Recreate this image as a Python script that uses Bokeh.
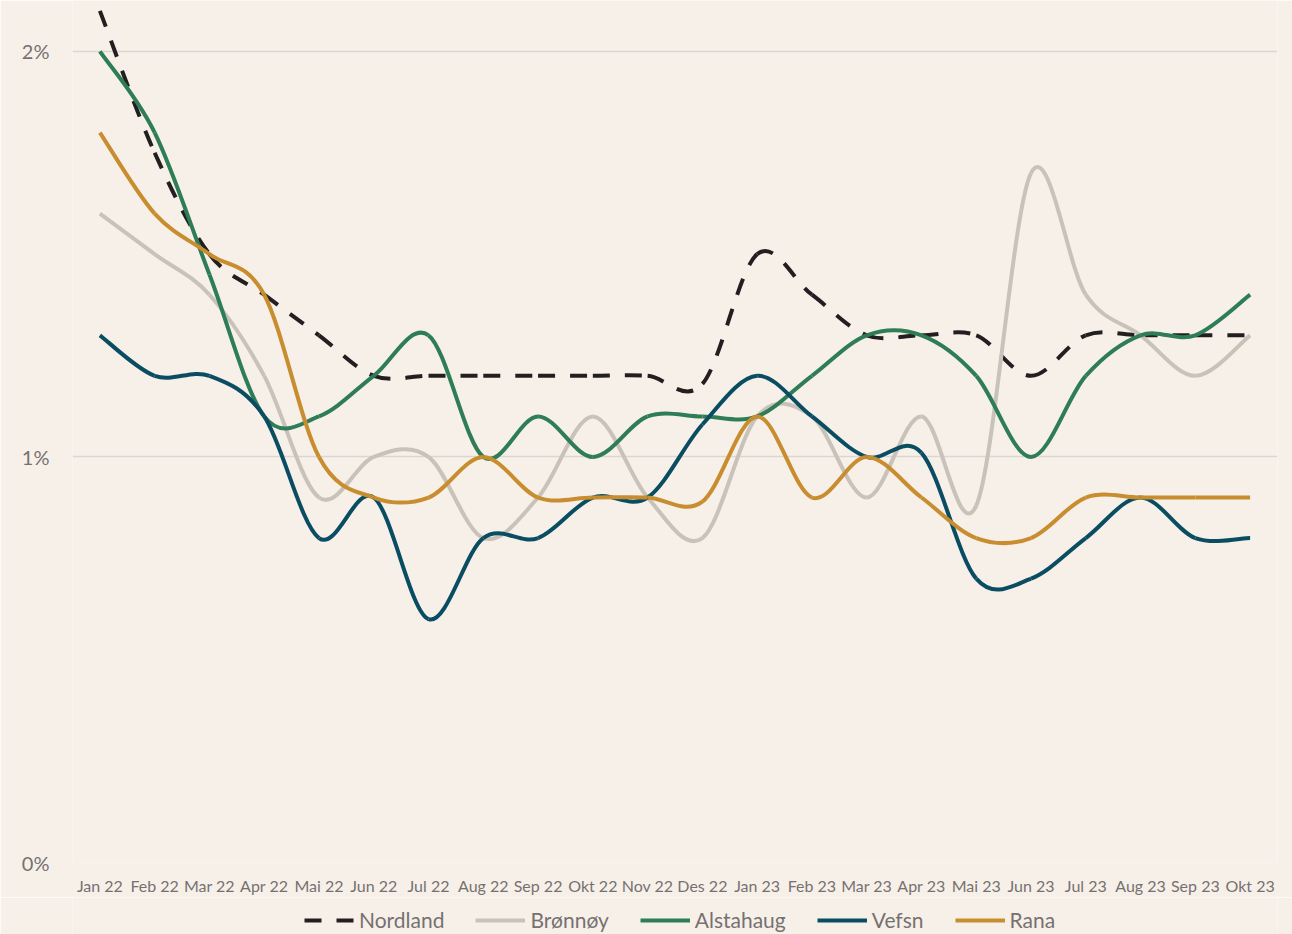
from bokeh.plotting import figure
from bokeh.layouts import column
from bokeh.models import Range1d, FixedTicker, Legend, LegendItem, ColumnDataSource
from bokeh.embed import file_html
from bokeh.resources import INLINE

# ---- data ----
months = ["Jan 22", "Feb 22", "Mar 22", "Apr 22", "Mai 22", "Jun 22", "Jul 22",
          "Aug 22", "Sep 22", "Okt 22", "Nov 22", "Des 22", "Jan 23", "Feb 23",
          "Mar 23", "Apr 23", "Mai 23", "Jun 23", "Jul 23", "Aug 23", "Sep 23", "Okt 23"]

nordland = [2.1, 1.75, 1.5, 1.4, 1.3, 1.2, 1.2, 1.2, 1.2, 1.2, 1.2, 1.18,
            1.5, 1.4, 1.3, 1.3, 1.3, 1.2, 1.3, 1.3, 1.3, 1.3]
bronnoy = [1.6, 1.5, 1.4, 1.2, 0.9, 1.0, 1.0, 0.8, 0.9, 1.1, 0.9, 0.8,
           1.1, 1.1, 0.9, 1.1, 0.88, 1.7, 1.4, 1.3, 1.2, 1.3]
alstahaug = [2.0, 1.8, 1.45, 1.1, 1.1, 1.2, 1.3, 1.0, 1.1, 1.0, 1.1, 1.1,
             1.1, 1.2, 1.3, 1.3, 1.2, 1.0, 1.2, 1.3, 1.3, 1.4]
vefsn = [1.3, 1.2, 1.2, 1.1, 0.8, 0.9, 0.6, 0.8, 0.8, 0.9, 0.9, 1.08,
         1.2, 1.1, 1.0, 1.01, 0.7, 0.7, 0.8, 0.9, 0.8, 0.8]
rana = [1.8, 1.6, 1.5, 1.4, 1.0, 0.9, 0.9, 1.0, 0.9, 0.9, 0.9, 0.89,
        1.1, 0.9, 1.0, 0.9, 0.8, 0.8, 0.9, 0.9, 0.9, 0.9]

series_names = ["Nordland", "Brønnøy", "Alstahaug", "Vefsn", "Rana"]
series_values = [nordland, bronnoy, alstahaug, vefsn, rana]

y_ticks = [0, 1, 2]
y_tick_labels = ["0%", "1%", "2%"]

# ---- styles ----
colors = ["#231F20", "#C9C2B8", "#2E7D56", "#0A4D63", "#C88D2E"]
dashes = ["17 15", "solid", "solid", "solid", "solid"]
BG = "#F6F0E9"
TXT = "#767171"
FONT = "Lato"


def smooth_segments(ys):
    """Cubic Bezier segments (Catmull-Rom style) through the data points."""
    xs = list(range(len(ys)))
    n = len(ys)
    d = dict(x0=[], y0=[], x1=[], y1=[], cx0=[], cy0=[], cx1=[], cy1=[])
    for i in range(n - 1):
        a = i - 1 if i > 0 else i
        b = i + 2 if i + 2 < n else i + 1
        d["x0"].append(xs[i]); d["y0"].append(ys[i])
        d["x1"].append(xs[i + 1]); d["y1"].append(ys[i + 1])
        d["cx0"].append(xs[i] + (xs[i + 1] - xs[a]) / 6.0)
        d["cy0"].append(ys[i] + (ys[i + 1] - ys[a]) / 6.0)
        d["cx1"].append(xs[i + 1] - (xs[b] - xs[i]) / 6.0)
        d["cy1"].append(ys[i + 1] - (ys[b] - ys[i]) / 6.0)
    return ColumnDataSource(d)


# ---- main chart ----
p = figure(width=1292, height=897, output_backend="svg", toolbar_location=None,
           x_range=Range1d(-0.5, len(months) - 0.5), y_range=Range1d(0, 2.1255),
           min_border_left=72, min_border_right=15, min_border_top=0, min_border_bottom=33)

p.background_fill_color = BG
p.border_fill_color = BG
p.outline_line_color = None

p.xgrid.grid_line_color = None
p.ygrid.ticker = FixedTicker(ticks=y_ticks)
p.ygrid.grid_line_color = "#DAD7D3"
p.ygrid.grid_line_width = 1.5

p.xaxis.ticker = FixedTicker(ticks=list(range(len(months))))
p.xaxis.major_label_overrides = {i: m for i, m in enumerate(months)}
p.yaxis.ticker = FixedTicker(ticks=y_ticks)
p.yaxis.major_label_overrides = {t: l for t, l in zip(y_ticks, y_tick_labels)}

for ax in (p.xaxis, p.yaxis):
    ax.axis_line_color = None
    ax.major_tick_line_color = None
    ax.minor_tick_line_color = None
    ax.major_label_text_color = TXT
    ax.major_label_text_font = FONT
p.xaxis.major_label_text_font_size = "16px"
p.xaxis.major_label_standoff = 7
p.yaxis.major_label_text_font_size = "20px"
p.yaxis.major_label_standoff = 17

for name, vals, col, dash in zip(series_names, series_values, colors, dashes):
    src = smooth_segments(vals)
    p.bezier(x0="x0", y0="y0", x1="x1", y1="y1", cx0="cx0", cy0="cy0",
             cx1="cx1", cy1="cy1", source=src, line_color=col, line_width=4,
             line_dash=dash)

# ---- legend strip underneath ----
lg = figure(width=1292, height=37, output_backend="svg", toolbar_location=None,
            x_range=Range1d(0, 1), y_range=Range1d(0, 1),
            x_axis_location=None, y_axis_location=None,
            min_border_left=0, min_border_right=0, min_border_top=0, min_border_bottom=0)
lg.background_fill_color = BG
lg.border_fill_color = BG
lg.outline_line_color = None
lg.grid.grid_line_color = None

items = []
for name, col, dash in zip(series_names, colors, dashes):
    r = lg.line(x=[-2, -1], y=[-2, -1], line_color=col, line_width=4, line_dash=dash)
    items.append(LegendItem(label=name, renderers=[r]))

legend = Legend(items=items, location=(232, 2), orientation="horizontal",
                padding=0, margin=0, spacing=31, glyph_width=50, glyph_height=20,
                label_standoff=5, label_text_font_size="21px",
                label_text_font=FONT, label_text_color=TXT,
                background_fill_alpha=0, border_line_color=None)
lg.add_layout(legend)

layout = column(p, lg, spacing=0)
open("out.html", "w").write(file_html(layout, INLINE))
